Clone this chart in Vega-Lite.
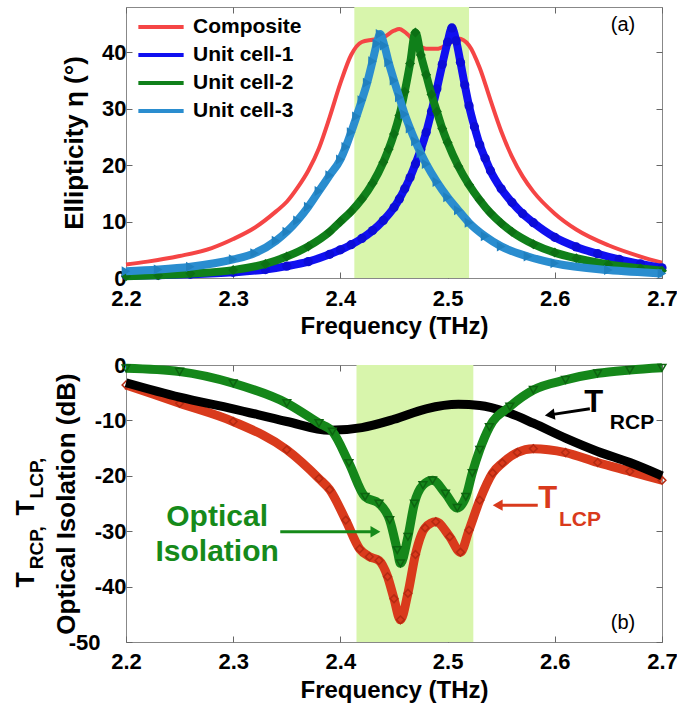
{
"$schema":"https://vega.github.io/schema/vega-lite/v6.json",
"padding":{"left":13,"top":6,"right":5,"bottom":5},
"background":"white",
"bounds":"flush",
"spacing":87,
"config":{
 "locale":{"number":{"decimal":".","thousands":",","grouping":[3],"currency":["$",""],"minus":"-"}},
 "font":"Liberation Sans",
 "view":{"stroke":"#888888","strokeWidth":1},
 "axis":{"labelFont":"Liberation Sans","labelFontWeight":"bold","labelFontSize":22,"labelColor":"#000000","titleFont":"Liberation Sans","titleFontWeight":"bold","titleFontSize":24,"titleColor":"#000000","grid":false,"domain":false,"tickColor":"#666666","tickWidth":1,"tickSize":-6,"labelFlush":false,"labelOverlap":false},
 "legend":{"orient":"top-left","offset":10,"padding":0,"title":null,"symbolType":"stroke","symbolSize":2050,"symbolStrokeWidth":4,"labelFont":"Liberation Sans","labelFontSize":21,"labelFontWeight":"bold","labelOffset":7,"clipHeight":20,"rowPadding":7,"labelColor":"#000000"}
},
"datasets":{
 "bandA":[{"f0":2.413,"f1":2.52,"v0":0,"v1":48}],
 "bandB":[{"f0":2.415,"f1":2.524,"v0":-50,"v1":0}],
 "ellip":[
{"s":"Composite","f":2.20,"v":2.4},{"s":"Composite","f":2.22,"v":2.9},{"s":"Composite","f":2.25,"v":3.9},{"s":"Composite","f":2.28,"v":5.3},{"s":"Composite","f":2.30,"v":6.9},{"s":"Composite","f":2.32,"v":8.9},{"s":"Composite","f":2.34,"v":11.8},{"s":"Composite","f":2.35,"v":13.5},{"s":"Composite","f":2.36,"v":16},{"s":"Composite","f":2.37,"v":19},{"s":"Composite","f":2.38,"v":23},{"s":"Composite","f":2.39,"v":28.5},{"s":"Composite","f":2.40,"v":34.5},{"s":"Composite","f":2.41,"v":39.5},{"s":"Composite","f":2.42,"v":41.8},{"s":"Composite","f":2.43,"v":42.2},{"s":"Composite","f":2.44,"v":42.6},{"s":"Composite","f":2.45,"v":43.8},{"s":"Composite","f":2.455,"v":44.1},{"s":"Composite","f":2.46,"v":43.6},{"s":"Composite","f":2.47,"v":41.8},{"s":"Composite","f":2.48,"v":40.6},{"s":"Composite","f":2.49,"v":40.6},{"s":"Composite","f":2.50,"v":41.4},{"s":"Composite","f":2.51,"v":42.4},{"s":"Composite","f":2.52,"v":41.2},{"s":"Composite","f":2.53,"v":37.2},{"s":"Composite","f":2.54,"v":31.5},{"s":"Composite","f":2.55,"v":26},{"s":"Composite","f":2.56,"v":21.5},{"s":"Composite","f":2.57,"v":18},{"s":"Composite","f":2.58,"v":15.3},{"s":"Composite","f":2.60,"v":11.4},{"s":"Composite","f":2.62,"v":8.6},{"s":"Composite","f":2.65,"v":5.8},{"s":"Composite","f":2.68,"v":3.8},{"s":"Composite","f":2.70,"v":2.7},
{"s":"Unit cell-1","f":2.20,"v":0.4},{"s":"Unit cell-1","f":2.23,"v":0.5},{"s":"Unit cell-1","f":2.26,"v":0.65},{"s":"Unit cell-1","f":2.30,"v":1.0},{"s":"Unit cell-1","f":2.33,"v":1.5},{"s":"Unit cell-1","f":2.35,"v":2.1},{"s":"Unit cell-1","f":2.37,"v":2.9},{"s":"Unit cell-1","f":2.39,"v":4.2},{"s":"Unit cell-1","f":2.40,"v":5.0},{"s":"Unit cell-1","f":2.41,"v":5.9},{"s":"Unit cell-1","f":2.42,"v":7.0},{"s":"Unit cell-1","f":2.43,"v":8.4},{"s":"Unit cell-1","f":2.44,"v":10.2},{"s":"Unit cell-1","f":2.45,"v":12.5},{"s":"Unit cell-1","f":2.455,"v":14},{"s":"Unit cell-1","f":2.46,"v":15.8},{"s":"Unit cell-1","f":2.465,"v":17.8},{"s":"Unit cell-1","f":2.47,"v":20.2},{"s":"Unit cell-1","f":2.475,"v":22.8},{"s":"Unit cell-1","f":2.48,"v":25.8},{"s":"Unit cell-1","f":2.485,"v":29.5},{"s":"Unit cell-1","f":2.49,"v":33.5},{"s":"Unit cell-1","f":2.495,"v":37.8},{"s":"Unit cell-1","f":2.50,"v":41.8},{"s":"Unit cell-1","f":2.504,"v":44.3},{"s":"Unit cell-1","f":2.508,"v":42},{"s":"Unit cell-1","f":2.512,"v":38.2},{"s":"Unit cell-1","f":2.516,"v":34.2},{"s":"Unit cell-1","f":2.52,"v":30.5},{"s":"Unit cell-1","f":2.525,"v":26.8},{"s":"Unit cell-1","f":2.53,"v":23.6},{"s":"Unit cell-1","f":2.535,"v":21.2},{"s":"Unit cell-1","f":2.54,"v":19},{"s":"Unit cell-1","f":2.55,"v":15.8},{"s":"Unit cell-1","f":2.56,"v":13.4},{"s":"Unit cell-1","f":2.57,"v":11.4},{"s":"Unit cell-1","f":2.58,"v":9.8},{"s":"Unit cell-1","f":2.60,"v":7.2},{"s":"Unit cell-1","f":2.62,"v":5.5},{"s":"Unit cell-1","f":2.64,"v":4.3},{"s":"Unit cell-1","f":2.66,"v":3.3},{"s":"Unit cell-1","f":2.68,"v":2.5},{"s":"Unit cell-1","f":2.70,"v":1.8},
{"s":"Unit cell-2","f":2.20,"v":0.3},{"s":"Unit cell-2","f":2.23,"v":0.5},{"s":"Unit cell-2","f":2.26,"v":0.8},{"s":"Unit cell-2","f":2.30,"v":1.4},{"s":"Unit cell-2","f":2.33,"v":2.5},{"s":"Unit cell-2","f":2.35,"v":3.8},{"s":"Unit cell-2","f":2.37,"v":5.6},{"s":"Unit cell-2","f":2.39,"v":8.2},{"s":"Unit cell-2","f":2.40,"v":10.0},{"s":"Unit cell-2","f":2.41,"v":11.8},{"s":"Unit cell-2","f":2.42,"v":14.0},{"s":"Unit cell-2","f":2.43,"v":16.8},{"s":"Unit cell-2","f":2.44,"v":20.5},{"s":"Unit cell-2","f":2.445,"v":22.8},{"s":"Unit cell-2","f":2.45,"v":25.5},{"s":"Unit cell-2","f":2.455,"v":28.8},{"s":"Unit cell-2","f":2.46,"v":33.0},{"s":"Unit cell-2","f":2.465,"v":38.0},{"s":"Unit cell-2","f":2.47,"v":43.5},{"s":"Unit cell-2","f":2.475,"v":39.5},{"s":"Unit cell-2","f":2.48,"v":36.0},{"s":"Unit cell-2","f":2.485,"v":32.5},{"s":"Unit cell-2","f":2.49,"v":29.5},{"s":"Unit cell-2","f":2.495,"v":26.5},{"s":"Unit cell-2","f":2.50,"v":24.0},{"s":"Unit cell-2","f":2.51,"v":19.8},{"s":"Unit cell-2","f":2.52,"v":16.5},{"s":"Unit cell-2","f":2.53,"v":13.8},{"s":"Unit cell-2","f":2.54,"v":11.5},{"s":"Unit cell-2","f":2.55,"v":9.7},{"s":"Unit cell-2","f":2.56,"v":8.2},{"s":"Unit cell-2","f":2.58,"v":6.0},{"s":"Unit cell-2","f":2.60,"v":4.5},{"s":"Unit cell-2","f":2.62,"v":3.5},{"s":"Unit cell-2","f":2.65,"v":2.4},{"s":"Unit cell-2","f":2.68,"v":1.7},{"s":"Unit cell-2","f":2.70,"v":1.3},
{"s":"Unit cell-3","f":2.20,"v":1.2},{"s":"Unit cell-3","f":2.23,"v":1.5},{"s":"Unit cell-3","f":2.26,"v":2.0},{"s":"Unit cell-3","f":2.30,"v":3.3},{"s":"Unit cell-3","f":2.32,"v":4.4},{"s":"Unit cell-3","f":2.34,"v":6.6},{"s":"Unit cell-3","f":2.35,"v":8.2},{"s":"Unit cell-3","f":2.36,"v":10.2},{"s":"Unit cell-3","f":2.37,"v":12.6},{"s":"Unit cell-3","f":2.38,"v":15.4},{"s":"Unit cell-3","f":2.39,"v":18.2},{"s":"Unit cell-3","f":2.40,"v":21.0},{"s":"Unit cell-3","f":2.405,"v":23.2},{"s":"Unit cell-3","f":2.41,"v":25.8},{"s":"Unit cell-3","f":2.415,"v":28.6},{"s":"Unit cell-3","f":2.42,"v":31.5},{"s":"Unit cell-3","f":2.425,"v":34.6},{"s":"Unit cell-3","f":2.43,"v":38.4},{"s":"Unit cell-3","f":2.434,"v":41.5},{"s":"Unit cell-3","f":2.437,"v":43.2},{"s":"Unit cell-3","f":2.441,"v":41.2},{"s":"Unit cell-3","f":2.445,"v":38.2},{"s":"Unit cell-3","f":2.45,"v":35.0},{"s":"Unit cell-3","f":2.455,"v":32.0},{"s":"Unit cell-3","f":2.46,"v":29.0},{"s":"Unit cell-3","f":2.465,"v":26.5},{"s":"Unit cell-3","f":2.47,"v":24.2},{"s":"Unit cell-3","f":2.475,"v":22.1},{"s":"Unit cell-3","f":2.48,"v":20.2},{"s":"Unit cell-3","f":2.49,"v":17.0},{"s":"Unit cell-3","f":2.50,"v":14.3},{"s":"Unit cell-3","f":2.51,"v":12.0},{"s":"Unit cell-3","f":2.52,"v":9.8},{"s":"Unit cell-3","f":2.535,"v":7.4},{"s":"Unit cell-3","f":2.55,"v":5.6},{"s":"Unit cell-3","f":2.575,"v":3.8},{"s":"Unit cell-3","f":2.60,"v":2.6},{"s":"Unit cell-3","f":2.65,"v":1.4},{"s":"Unit cell-3","f":2.70,"v":0.8}
 ],
 "trans":[
{"s":"TRCP","f":2.20,"v":-3.2},{"s":"TRCP","f":2.25,"v":-5.8},{"s":"TRCP","f":2.30,"v":-7.9},{"s":"TRCP","f":2.35,"v":-10.2},{"s":"TRCP","f":2.39,"v":-11.8},{"s":"TRCP","f":2.42,"v":-11.3},{"s":"TRCP","f":2.45,"v":-9.8},{"s":"TRCP","f":2.48,"v":-7.9},{"s":"TRCP","f":2.51,"v":-7.1},{"s":"TRCP","f":2.53,"v":-7.3},{"s":"TRCP","f":2.555,"v":-8.5},{"s":"TRCP","f":2.58,"v":-10.5},{"s":"TRCP","f":2.61,"v":-13.2},{"s":"TRCP","f":2.64,"v":-15.6},{"s":"TRCP","f":2.67,"v":-17.6},{"s":"TRCP","f":2.70,"v":-20},
{"s":"TLCP","f":2.20,"v":-3.6},{"s":"TLCP","f":2.25,"v":-6.9},{"s":"TLCP","f":2.30,"v":-10.2},{"s":"TLCP","f":2.35,"v":-15.3},{"s":"TLCP","f":2.38,"v":-20.5},{"s":"TLCP","f":2.39,"v":-22.5},{"s":"TLCP","f":2.405,"v":-28},{"s":"TLCP","f":2.418,"v":-33.2},{"s":"TLCP","f":2.427,"v":-34.6},{"s":"TLCP","f":2.436,"v":-35.3},{"s":"TLCP","f":2.444,"v":-38.2},{"s":"TLCP","f":2.45,"v":-42.2},{"s":"TLCP","f":2.456,"v":-46},{"s":"TLCP","f":2.463,"v":-41.2},{"s":"TLCP","f":2.47,"v":-34.2},{"s":"TLCP","f":2.479,"v":-29.4},{"s":"TLCP","f":2.489,"v":-28.3},{"s":"TLCP","f":2.502,"v":-31},{"s":"TLCP","f":2.512,"v":-33.8},{"s":"TLCP","f":2.52,"v":-29.8},{"s":"TLCP","f":2.53,"v":-24.4},{"s":"TLCP","f":2.542,"v":-19.5},{"s":"TLCP","f":2.551,"v":-17.7},{"s":"TLCP","f":2.565,"v":-15.8},{"s":"TLCP","f":2.58,"v":-15.1},{"s":"TLCP","f":2.61,"v":-15.8},{"s":"TLCP","f":2.64,"v":-17.6},{"s":"TLCP","f":2.67,"v":-19.2},{"s":"TLCP","f":2.70,"v":-20.8},
{"s":"OI","f":2.20,"v":-0.6},{"s":"OI","f":2.25,"v":-1.2},{"s":"OI","f":2.30,"v":-3.3},{"s":"OI","f":2.35,"v":-6.9},{"s":"OI","f":2.38,"v":-10.5},{"s":"OI","f":2.3925,"v":-12},{"s":"OI","f":2.408,"v":-17.7},{"s":"OI","f":2.423,"v":-23.8},{"s":"OI","f":2.436,"v":-25},{"s":"OI","f":2.446,"v":-28},{"s":"OI","f":2.453,"v":-33.4},{"s":"OI","f":2.456,"v":-35.8},{"s":"OI","f":2.463,"v":-31},{"s":"OI","f":2.469,"v":-25},{"s":"OI","f":2.477,"v":-21.7},{"s":"OI","f":2.486,"v":-20.8},{"s":"OI","f":2.498,"v":-23.2},{"s":"OI","f":2.509,"v":-25.8},{"s":"OI","f":2.517,"v":-23.8},{"s":"OI","f":2.523,"v":-19.5},{"s":"OI","f":2.53,"v":-15.3},{"s":"OI","f":2.539,"v":-11.2},{"s":"OI","f":2.558,"v":-7.5},{"s":"OI","f":2.58,"v":-4.5},{"s":"OI","f":2.61,"v":-2.7},{"s":"OI","f":2.64,"v":-1.5},{"s":"OI","f":2.67,"v":-0.9},{"s":"OI","f":2.70,"v":-0.5}
 ]
},
"vconcat":[
{
 "width":536,"height":271,
 "resolve":{"axis":{"x":"independent","y":"independent"}},
 "layer":[
  {"data":{"name":"bandA"},"mark":{"type":"rect","color":"#d8f5ac"},
   "encoding":{
    "x":{"field":"f0","type":"quantitative","scale":{"domain":[2.2,2.7],"nice":false,"zero":false},"axis":{"orient":"top","labels":false,"title":null,"values":[2.2,2.3,2.4,2.5,2.6,2.7]}},
    "x2":{"field":"f1"},
    "y":{"field":"v0","type":"quantitative","scale":{"domain":[0,48],"nice":false,"zero":false},"axis":{"orient":"right","labels":false,"title":null,"values":[0,10,20,30,40]}},
    "y2":{"field":"v1"}}},
  {"data":{"name":"ellip"},"transform":[{"filter":"datum.s === 'Composite'"}],
   "mark":{"type":"line","strokeWidth":4,"interpolate":"monotone"},
   "encoding":{
    "x":{"field":"f","type":"quantitative","scale":{"domain":[2.2,2.7],"nice":false,"zero":false},"axis":{"title":"Frequency (THz)","values":[2.2,2.3,2.4,2.5,2.6,2.7],"format":".1f","labelPadding":16,"titlePadding":5}},
    "y":{"field":"v","type":"quantitative","scale":{"domain":[0,48],"nice":false,"zero":false},"axis":{"title":"Ellipticity  η  (°)","titleFontSize":26,"values":[0,10,20,30,40],"labelPadding":6,"titleX":-52,"titleBaseline":"middle"}},
    "color":{"field":"s","type":"nominal","scale":{"domain":["Composite","Unit cell-1","Unit cell-2","Unit cell-3"],"range":["#f54545","#1010f0","#10801a","#2a8dcf"]}}}},
  {"data":{"name":"ellip"},"transform":[{"filter":"datum.s === 'Unit cell-1'"}],
   "mark":{"type":"line","strokeWidth":8,"interpolate":"monotone"},
   "encoding":{
    "x":{"field":"f","type":"quantitative","scale":{"domain":[2.2,2.7],"nice":false,"zero":false},"axis":null},
    "y":{"field":"v","type":"quantitative","scale":{"domain":[0,48],"nice":false,"zero":false},"axis":null},
    "color":{"field":"s","type":"nominal","scale":{"domain":["Composite","Unit cell-1","Unit cell-2","Unit cell-3"],"range":["#f54545","#1010f0","#10801a","#2a8dcf"]}}}},
  {"data":{"name":"ellip"},"transform":[{"filter":"datum.s === 'Unit cell-1'"}],
   "mark":{"type":"point","filled":true,"size":85,"shape":"circle","color":"#0c0cd8","opacity":1},
   "encoding":{
    "x":{"field":"f","type":"quantitative","scale":{"domain":[2.2,2.7],"nice":false,"zero":false},"axis":null},
    "y":{"field":"v","type":"quantitative","scale":{"domain":[0,48],"nice":false,"zero":false},"axis":null}}},
  {"data":{"name":"ellip"},"transform":[{"filter":"datum.s === 'Unit cell-2'"}],
   "mark":{"type":"line","strokeWidth":8,"interpolate":"monotone"},
   "encoding":{
    "x":{"field":"f","type":"quantitative","scale":{"domain":[2.2,2.7],"nice":false,"zero":false},"axis":null},
    "y":{"field":"v","type":"quantitative","scale":{"domain":[0,48],"nice":false,"zero":false},"axis":null},
    "color":{"field":"s","type":"nominal","scale":{"domain":["Composite","Unit cell-1","Unit cell-2","Unit cell-3"],"range":["#f54545","#1010f0","#10801a","#2a8dcf"]}}}},
  {"data":{"name":"ellip"},"transform":[{"filter":"datum.s === 'Unit cell-2'"}],
   "mark":{"type":"point","filled":true,"size":100,"shape":"diamond","color":"#0c7014","opacity":1},
   "encoding":{
    "x":{"field":"f","type":"quantitative","scale":{"domain":[2.2,2.7],"nice":false,"zero":false},"axis":null},
    "y":{"field":"v","type":"quantitative","scale":{"domain":[0,48],"nice":false,"zero":false},"axis":null}}},
  {"data":{"name":"ellip"},"transform":[{"filter":"datum.s === 'Unit cell-3'"}],
   "mark":{"type":"line","strokeWidth":8,"interpolate":"monotone"},
   "encoding":{
    "x":{"field":"f","type":"quantitative","scale":{"domain":[2.2,2.7],"nice":false,"zero":false},"axis":null},
    "y":{"field":"v","type":"quantitative","scale":{"domain":[0,48],"nice":false,"zero":false},"axis":null},
    "color":{"field":"s","type":"nominal","scale":{"domain":["Composite","Unit cell-1","Unit cell-2","Unit cell-3"],"range":["#f54545","#1010f0","#10801a","#2a8dcf"]}}}},
  {"data":{"name":"ellip"},"transform":[{"filter":"datum.s === 'Unit cell-3'"}],
   "mark":{"type":"point","filled":true,"size":100,"shape":"triangle-right","color":"#2080bf","opacity":1},
   "encoding":{
    "x":{"field":"f","type":"quantitative","scale":{"domain":[2.2,2.7],"nice":false,"zero":false},"axis":null},
    "y":{"field":"v","type":"quantitative","scale":{"domain":[0,48],"nice":false,"zero":false},"axis":null}}},
  {"data":{"values":[{"t":"(a)","f":2.6636,"v":44.8}]},
   "mark":{"type":"text","fontSize":20,"font":"Liberation Sans","color":"#000000","align":"center","baseline":"middle"},
   "encoding":{
    "x":{"field":"f","type":"quantitative","scale":{"domain":[2.2,2.7],"nice":false,"zero":false},"axis":null},
    "y":{"field":"v","type":"quantitative","scale":{"domain":[0,48],"nice":false,"zero":false},"axis":null},
    "text":{"field":"t"}}}
 ]
},
{
 "width":536,"height":277,
 "resolve":{"axis":{"x":"independent","y":"independent"}},
 "layer":[
  {"data":{"name":"bandB"},"mark":{"type":"rect","color":"#d8f5ac"},
   "encoding":{
    "x":{"field":"f0","type":"quantitative","scale":{"domain":[2.2,2.7],"nice":false,"zero":false},"axis":{"orient":"top","labels":false,"title":null,"values":[2.2,2.3,2.4,2.5,2.6,2.7]}},
    "x2":{"field":"f1"},
    "y":{"field":"v0","type":"quantitative","scale":{"domain":[-50,0],"nice":false,"zero":false},"axis":{"orient":"right","labels":false,"title":null,"values":[-50,-40,-30,-20,-10,0]}},
    "y2":{"field":"v1"}}},
  {"data":{"name":"trans"},"transform":[{"filter":"datum.s === 'TLCP'"}],
   "mark":{"type":"line","strokeWidth":9,"interpolate":"monotone","color":"#d93a1c"},
   "encoding":{
    "x":{"field":"f","type":"quantitative","scale":{"domain":[2.2,2.7],"nice":false,"zero":false},"axis":{"title":"Frequency (THz)","values":[2.2,2.3,2.4,2.5,2.6,2.7],"format":".1f","labelPadding":15,"titlePadding":6}},
    "y":{"field":"v","type":"quantitative","scale":{"domain":[-50,0],"nice":false,"zero":false},"axis":{"title":"Optical Isolation (dB)","titleFontSize":26,"values":[-50,-40,-30,-20,-10,0],"format":"d","labelPadding":{"condition":{"test":"datum.value === -50","value":32},"value":6},"titleX":-60,"titleBaseline":"middle"}}}},
  {"data":{"name":"trans"},"transform":[{"filter":"datum.s === 'TLCP'"}],
   "mark":{"type":"point","filled":false,"size":60,"shape":"diamond","color":"#b52a12","strokeWidth":1.5,"opacity":1},
   "encoding":{
    "x":{"field":"f","type":"quantitative","scale":{"domain":[2.2,2.7],"nice":false,"zero":false},"axis":null},
    "y":{"field":"v","type":"quantitative","scale":{"domain":[-50,0],"nice":false,"zero":false},"axis":null}}},
  {"data":{"name":"trans"},"transform":[{"filter":"datum.s === 'TRCP'"}],
   "mark":{"type":"line","strokeWidth":9,"interpolate":"monotone","color":"#000000"},
   "encoding":{
    "x":{"field":"f","type":"quantitative","scale":{"domain":[2.2,2.7],"nice":false,"zero":false},"axis":null},
    "y":{"field":"v","type":"quantitative","scale":{"domain":[-50,0],"nice":false,"zero":false},"axis":null}}},
  {"data":{"name":"trans"},"transform":[{"filter":"datum.s === 'OI'"}],
   "mark":{"type":"line","strokeWidth":9,"interpolate":"monotone","color":"#15871a"},
   "encoding":{
    "x":{"field":"f","type":"quantitative","scale":{"domain":[2.2,2.7],"nice":false,"zero":false},"axis":null},
    "y":{"field":"v","type":"quantitative","scale":{"domain":[-50,0],"nice":false,"zero":false},"axis":null}}},
  {"data":{"name":"trans"},"transform":[{"filter":"datum.s === 'OI'"}],
   "mark":{"type":"point","filled":false,"size":60,"shape":"triangle-down","color":"#0d6410","strokeWidth":1.5,"opacity":1},
   "encoding":{
    "x":{"field":"f","type":"quantitative","scale":{"domain":[2.2,2.7],"nice":false,"zero":false},"axis":null},
    "y":{"field":"v","type":"quantitative","scale":{"domain":[-50,0],"nice":false,"zero":false},"axis":null}}},
  {"data":{"values":[{"f":2.6327,"v":-7.9,"f2":2.5953,"v2":-9.0}]},
   "mark":{"type":"rule","strokeWidth":3,"color":"#000000"},
   "encoding":{
    "x":{"field":"f","type":"quantitative","scale":{"domain":[2.2,2.7],"nice":false,"zero":false},"axis":null},
    "y":{"field":"v","type":"quantitative","scale":{"domain":[-50,0],"nice":false,"zero":false},"axis":null},
    "x2":{"field":"f2"},"y2":{"field":"v2"}}},
  {"data":{"values":[{"f":2.5953,"v":-9.0}]},
   "mark":{"type":"point","filled":true,"size":130,"shape":"triangle-left","angle":-8,"color":"#000000","opacity":1},
   "encoding":{
    "x":{"field":"f","type":"quantitative","scale":{"domain":[2.2,2.7],"nice":false,"zero":false},"axis":null},
    "y":{"field":"v","type":"quantitative","scale":{"domain":[-50,0],"nice":false,"zero":false},"axis":null}}},
  {"data":{"values":[{"t":"T","f":2.6364,"v":-6.9}]},
   "mark":{"type":"text","fontSize":31,"fontWeight":"bold","font":"Liberation Sans","color":"#000000","align":"center","baseline":"middle"},
   "encoding":{
    "x":{"field":"f","type":"quantitative","scale":{"domain":[2.2,2.7],"nice":false,"zero":false},"axis":null},
    "y":{"field":"v","type":"quantitative","scale":{"domain":[-50,0],"nice":false,"zero":false},"axis":null},
    "text":{"field":"t"}}},
  {"data":{"values":[{"t":"RCP","f":2.672,"v":-10.4}]},
   "mark":{"type":"text","fontSize":21,"fontWeight":"bold","font":"Liberation Sans","color":"#000000","align":"center","baseline":"middle"},
   "encoding":{
    "x":{"field":"f","type":"quantitative","scale":{"domain":[2.2,2.7],"nice":false,"zero":false},"axis":null},
    "y":{"field":"v","type":"quantitative","scale":{"domain":[-50,0],"nice":false,"zero":false},"axis":null},
    "text":{"field":"t"}}},
  {"data":{"values":[{"f":2.5841,"v":-25.3,"f2":2.5467,"v2":-25.3}]},
   "mark":{"type":"rule","strokeWidth":3,"color":"#d93a1c"},
   "encoding":{
    "x":{"field":"f","type":"quantitative","scale":{"domain":[2.2,2.7],"nice":false,"zero":false},"axis":null},
    "y":{"field":"v","type":"quantitative","scale":{"domain":[-50,0],"nice":false,"zero":false},"axis":null},
    "x2":{"field":"f2"},"y2":{"field":"v2"}}},
  {"data":{"values":[{"f":2.5467,"v":-25.3}]},
   "mark":{"type":"point","filled":true,"size":130,"shape":"triangle-left","color":"#d93a1c","opacity":1},
   "encoding":{
    "x":{"field":"f","type":"quantitative","scale":{"domain":[2.2,2.7],"nice":false,"zero":false},"axis":null},
    "y":{"field":"v","type":"quantitative","scale":{"domain":[-50,0],"nice":false,"zero":false},"axis":null}}},
  {"data":{"values":[{"t":"T","f":2.5935,"v":-24.2}]},
   "mark":{"type":"text","fontSize":31,"fontWeight":"bold","font":"Liberation Sans","color":"#d93a1c","align":"center","baseline":"middle"},
   "encoding":{
    "x":{"field":"f","type":"quantitative","scale":{"domain":[2.2,2.7],"nice":false,"zero":false},"axis":null},
    "y":{"field":"v","type":"quantitative","scale":{"domain":[-50,0],"nice":false,"zero":false},"axis":null},
    "text":{"field":"t"}}},
  {"data":{"values":[{"t":"LCP","f":2.6234,"v":-27.9}]},
   "mark":{"type":"text","fontSize":21,"fontWeight":"bold","font":"Liberation Sans","color":"#d93a1c","align":"center","baseline":"middle"},
   "encoding":{
    "x":{"field":"f","type":"quantitative","scale":{"domain":[2.2,2.7],"nice":false,"zero":false},"axis":null},
    "y":{"field":"v","type":"quantitative","scale":{"domain":[-50,0],"nice":false,"zero":false},"axis":null},
    "text":{"field":"t"}}},
  {"data":{"values":[{"t":"Optical","f":2.285,"v":-27.4},{"t":"Isolation","f":2.285,"v":-33.75}]},
   "mark":{"type":"text","fontSize":30,"fontWeight":"bold","font":"Liberation Sans","color":"#168a1a","align":"center","baseline":"middle"},
   "encoding":{
    "x":{"field":"f","type":"quantitative","scale":{"domain":[2.2,2.7],"nice":false,"zero":false},"axis":null},
    "y":{"field":"v","type":"quantitative","scale":{"domain":[-50,0],"nice":false,"zero":false},"axis":null},
    "text":{"field":"t"}}},
  {"data":{"values":[{"f":2.3439,"v":-30.1,"f2":2.4327,"v2":-30.1}]},
   "mark":{"type":"rule","strokeWidth":3,"color":"#168a1a"},
   "encoding":{
    "x":{"field":"f","type":"quantitative","scale":{"domain":[2.2,2.7],"nice":false,"zero":false},"axis":null},
    "y":{"field":"v","type":"quantitative","scale":{"domain":[-50,0],"nice":false,"zero":false},"axis":null},
    "x2":{"field":"f2"},"y2":{"field":"v2"}}},
  {"data":{"values":[{"f":2.4327,"v":-30.1}]},
   "mark":{"type":"point","filled":true,"size":130,"shape":"triangle-right","color":"#168a1a","opacity":1},
   "encoding":{
    "x":{"field":"f","type":"quantitative","scale":{"domain":[2.2,2.7],"nice":false,"zero":false},"axis":null},
    "y":{"field":"v","type":"quantitative","scale":{"domain":[-50,0],"nice":false,"zero":false},"axis":null}}},
  {"data":{"values":[{"t":"(b)","f":2.6636,"v":-46.6}]},
   "mark":{"type":"text","fontSize":20,"font":"Liberation Sans","color":"#000000","align":"center","baseline":"middle"},
   "encoding":{
    "x":{"field":"f","type":"quantitative","scale":{"domain":[2.2,2.7],"nice":false,"zero":false},"axis":null},
    "y":{"field":"v","type":"quantitative","scale":{"domain":[-50,0],"nice":false,"zero":false},"axis":null},
    "text":{"field":"t"}}},
  {"data":{"values":[{"t":"T","f":2.1065,"v":-38.8},{"t":"T","f":2.1065,"v":-25.8}]},
   "mark":{"type":"text","fontSize":25,"fontWeight":"bold","font":"Liberation Sans","color":"#000000","align":"center","baseline":"middle","angle":270},
   "encoding":{
    "x":{"field":"f","type":"quantitative","scale":{"domain":[2.2,2.7],"nice":false,"zero":false},"axis":null},
    "y":{"field":"v","type":"quantitative","scale":{"domain":[-50,0],"nice":false,"zero":false},"axis":null},
    "text":{"field":"t"}}},
  {"data":{"values":[{"t":"RCP,","f":2.1168,"v":-33.0},{"t":"LCP,","f":2.1168,"v":-20.4}]},
   "mark":{"type":"text","fontSize":19,"fontWeight":"bold","font":"Liberation Sans","color":"#000000","align":"center","baseline":"middle","angle":270},
   "encoding":{
    "x":{"field":"f","type":"quantitative","scale":{"domain":[2.2,2.7],"nice":false,"zero":false},"axis":null},
    "y":{"field":"v","type":"quantitative","scale":{"domain":[-50,0],"nice":false,"zero":false},"axis":null},
    "text":{"field":"t"}}}
 ]
}
]
}
